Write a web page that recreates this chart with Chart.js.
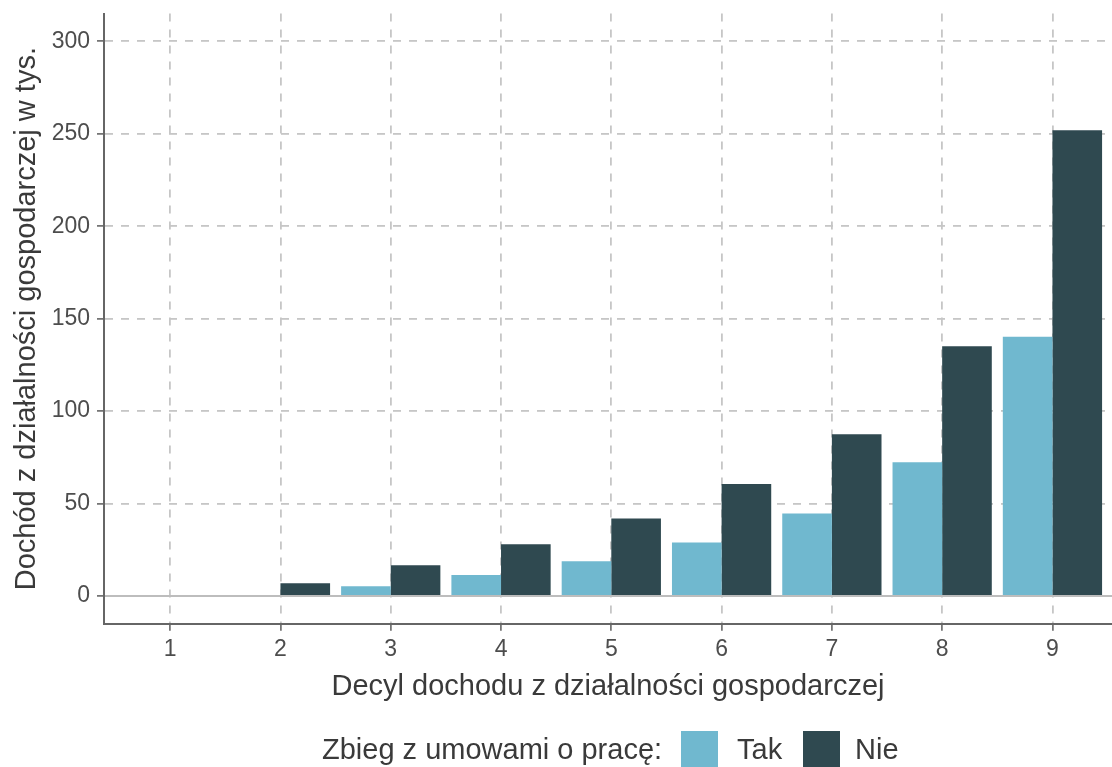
<!DOCTYPE html>
<html><head><meta charset="utf-8">
<script src="https://cdn.jsdelivr.net/npm/chart.js@4"></script>
<style>
html,body{margin:0;padding:0;background:#fff;overflow:hidden;}
#wrap{position:relative;width:1112px;height:767px;}
canvas{position:absolute;left:0;top:0;}
.lg{position:absolute;font-family:"Liberation Sans",Arial,sans-serif;font-size:29px;line-height:38px;color:#3a3a3a;white-space:nowrap;}
.box{position:absolute;width:37px;height:37px;}
</style></head>
<body><div id="wrap"><canvas id="c" width="1112" height="767"></canvas><div id="legend"></div></div>
<script>
const deciles=[1,2,3,4,5,6,7,8,9];
const tak=[0,0,5.3,11.4,18.8,28.9,44.6,72.4,140.2];
const nie=[0,6.9,16.7,28.0,41.9,60.6,87.5,135.1,251.9];
const yTicks=[0,50,100,150,200,250,300];
const seriesNames=['Tak','Nie'];
const seriesColors=['#70b8cf','#2f4950'];
const legendTitle='Zbieg z umowami o pracę:';
const xTitle='Decyl dochodu z działalności gospodarczej';
const yTitle='Dochód z działalności gospodarczej w tys.';

Chart.defaults.font.family='"Liberation Sans", Arial, sans-serif';

const zeroLine={id:'zeroLine',afterDatasetsDraw(chart){
  const {ctx,chartArea:a,scales:{y}}=chart;
  const py=y.getPixelForValue(0);
  ctx.save();ctx.strokeStyle='#bdbdbd';ctx.lineWidth=2;
  ctx.beginPath();ctx.moveTo(a.left+1,py);ctx.lineTo(a.right,py);ctx.stroke();ctx.restore();
}};

const mk=(i,vals)=>({label:seriesNames[i],data:deciles.map((d,k)=>({x:d,y:vals[k]})),
  backgroundColor:seriesColors[i],borderWidth:0,
  categoryPercentage:0.9,barPercentage:1});

new Chart(document.getElementById('c'),{
  type:'bar',
  data:{datasets:[mk(0,tak),mk(1,nie)]},
  plugins:[zeroLine],
  options:{
    responsive:false,animation:false,
    layout:{padding:{top:13.5,bottom:47,left:0,right:0}},
    plugins:{legend:{display:false},tooltip:{enabled:false}},
    scales:{
      x:{type:'linear',min:0.4,max:9.54,offset:false,
        afterBuildTicks(s){s.ticks=deciles.map(v=>({value:v}));},
        afterFit(s){s.height=96.25;s.paddingLeft=0;s.paddingRight=0;},
        grid:{offset:false,color:'#c6c6c6',lineWidth:1.8,tickColor:'#666',tickWidth:1.6,tickLength:7},
        border:{display:true,color:'#666',width:2,dash:[8,8]},
        ticks:{padding:5,color:'#4d4d4d',font:{size:23},callback:v=>String(v),maxRotation:0},
        title:{display:true,text:xTitle,color:'#3a3a3a',font:{size:29},padding:{top:0,bottom:15.6}}
      },
      y:{type:'linear',min:-15,max:315,
        afterBuildTicks(s){s.ticks=yTicks.map(v=>({value:v}));},
        afterFit(s){s.width=104;s.paddingTop=0;s.paddingBottom=0;},
        grid:{color:'#c6c6c6',lineWidth:1.8,tickColor:'#666',tickWidth:1.6,tickLength:7},
        border:{display:true,color:'#666',width:2,dash:[8,8]},
        ticks:{padding:7,color:'#4d4d4d',font:{size:23}},
        title:{display:true,text:yTitle,color:'#3a3a3a',font:{size:29},padding:{top:9.6,bottom:0}}
      }
    }
  }
});

const lg=document.getElementById('legend');
function add(html,cls,left,top,bg){const e=document.createElement('div');e.className=cls;e.style.left=left+'px';e.style.top=top+'px';if(bg)e.style.background=bg;if(html)e.textContent=html;lg.appendChild(e);}
add(legendTitle,'lg',322,730);
add('','box',681,731,seriesColors[0]);
add(seriesNames[0],'lg',737,730);
add('','box',803,731,seriesColors[1]);
add(seriesNames[1],'lg',855,730);
</script>
</body></html>
